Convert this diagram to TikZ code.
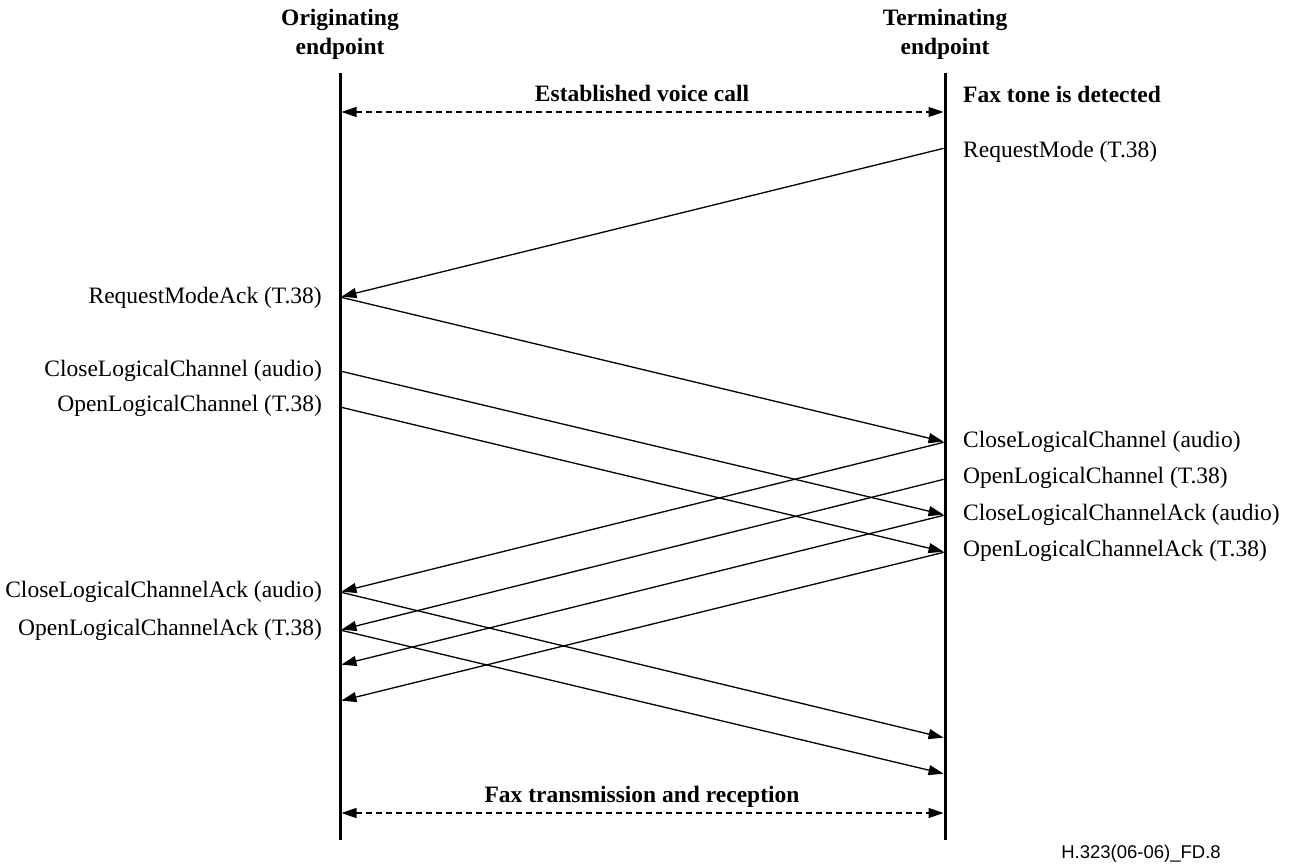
\documentclass[tikz,border=0pt]{standalone}
\usepackage{fontspec}
\setmainfont{Liberation Serif}
\newfontfamily\footfont{Liberation Sans}
\usetikzlibrary{arrows.meta}
\begin{document}
\begin{tikzpicture}[x=1pt,y=-1pt,
  lifeline/.style={line width=3pt},
  msg/.style={line width=1.3pt,-{Triangle[length=15pt,width=10pt]},shorten >=1.5pt,shorten <=1.5pt},
  both/.style={line width=1.3pt,dash pattern=on 6pt off 4pt,{Triangle[length=15pt,width=10pt]}-{Triangle[length=15pt,width=10pt]},shorten >=1.5pt,shorten <=1.5pt},
  head/.style={font=\fontsize{23.5}{29}\selectfont\bfseries,align=center,inner sep=0pt},
  lbl/.style={font=\fontsize{23.5}{28}\selectfont,inner sep=0pt},
  blbl/.style={font=\fontsize{23.5}{28}\selectfont\bfseries,inner sep=0pt}]
\useasboundingbox (0,0) rectangle (1296,866);
% lifelines
\coordinate (Ltop) at (340,73);
\coordinate (Lbot) at (340,840);
\coordinate (Rtop) at (945,73);
\coordinate (Rbot) at (945,840);
\draw[lifeline] (Ltop) -- (Lbot);
\draw[lifeline] (Rtop) -- (Rbot);
\node[head] (hO) at (340,34) {Originating\\endpoint};
\node[head] (hT) at (945,34) {Terminating\\endpoint};
% points on lifelines
\coordinate (La) at (340,112);   \coordinate (Ra) at (945,112);
\coordinate (R1) at (945,148);   \coordinate (L1) at (340,297);
\coordinate (R2) at (945,442);
\coordinate (L3) at (340,371);   \coordinate (R3) at (945,515);
\coordinate (L4) at (340,407);   \coordinate (R4) at (945,552);
\coordinate (R5) at (945,479);   \coordinate (L5) at (340,592);
\coordinate (L6) at (340,630);
\coordinate (L7) at (340,665);   \coordinate (L8) at (340,701);
\coordinate (R9) at (945,738);   \coordinate (R10) at (945,774);
\coordinate (Lz) at (340,813);   \coordinate (Rz) at (945,813);
% dashed
\draw[both] (La) -- (Ra);
\node[blbl] (tEst) at (642,93) {Established voice call};
\node[blbl,anchor=west] (tFax) at (963,94) {Fax tone is detected};
\draw[both] (Lz) -- (Rz);
\node[blbl] (tTx) at (642,797) {Fax transmission and reception};
% messages
\draw[msg] (R1) -- (L1);
\draw[msg] (L1) -- (R2);
\draw[msg] (L3) -- (R3);
\draw[msg] (L4) -- (R4);
\draw[msg] (R2) -- (L5);
\draw[msg] (R5) -- (L6);
\draw[msg] (R3) -- (L7);
\draw[msg] (R4) -- (L8);
\draw[msg] (L5) -- (R9);
\draw[msg] (L6) -- (R10);
% right labels
\node[lbl,anchor=west] (r1) at (963,152) {RequestMode (T.38)};
\node[lbl,anchor=west] (r2) at (963,442) {CloseLogicalChannel (audio)};
\node[lbl,anchor=west] (r3) at (963,478) {OpenLogicalChannel (T.38)};
\node[lbl,anchor=west] (r4) at (963,515) {CloseLogicalChannelAck (audio)};
\node[lbl,anchor=west] (r5) at (963,551) {OpenLogicalChannelAck (T.38)};
% left labels
\node[lbl,anchor=east] (l1) at (322,298) {RequestModeAck (T.38)};
\node[lbl,anchor=east] (l2) at (322,371) {CloseLogicalChannel (audio)};
\node[lbl,anchor=east] (l3) at (322,406) {OpenLogicalChannel (T.38)};
\node[lbl,anchor=east] (l4) at (322,592) {CloseLogicalChannelAck (audio)};
\node[lbl,anchor=east] (l5) at (322,630) {OpenLogicalChannelAck (T.38)};
% footer
\node[font=\footfont\fontsize{18.5}{22}\selectfont,inner sep=0pt] (foot) at (1141,854) {H.323(06-06)\_FD.8};
\end{tikzpicture}
\end{document}
